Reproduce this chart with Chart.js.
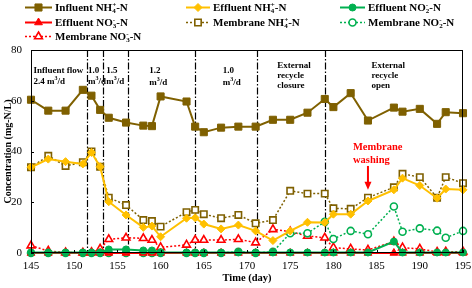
<!DOCTYPE html>
<html>
<head>
<meta charset="utf-8">
<script src="https://cdn.jsdelivr.net/npm/chart.js@4.4.0/dist/chart.umd.min.js"></script>
<style>
    html, body { margin: 0; padding: 0; background: #ffffff; }
</style>
</head>
<body>
<canvas id="nitrogenChart" width="472" height="288"></canvas>
<script>
// Nitrogen species over operation time

const days = [145, 147, 149, 151, 152, 153, 154, 156, 158, 159,
              160, 163, 164, 165, 167, 169, 171, 173, 175, 177,
              179, 180, 182, 184, 187, 188, 190, 192, 193, 195];

const influentNH4 = [60.4, 56.1, 56.1, 64.3, 62.0, 56.4, 53.3, 51.4, 50.2, 50.0,
                     61.7, 59.7, 49.8, 47.6, 49.4, 49.8, 49.8, 52.5, 52.5, 55.3,
                     60.7, 57.5, 63.0, 52.2, 57.3, 55.7, 56.8, 50.9, 55.5, 55.1];
const effluentNH4 = [33.8, 37.0, 36.0, 35.1, 39.6, 34.0, 20.2, 15.0, 10.1, 10.6,
                     6.4, 13.7, 13.9, 11.4, 9.5, 11.0, 8.7, 4.9, 8.7, 12.1,
                     12.0, 15.3, 15.3, 20.5, 24.9, 29.5, 26.6, 21.6, 25.2, 24.9];
const effluentNO2 = [0.2, 0.2, 0.2, 0.2, 0.2, 0.2, 1.4, 1.4, 1.0, 1.0,
                     0.3, 0.2, 0.2, 0.2, 0.2, 0.2, 0.2, 0.2, 0.2, 0.2,
                     0.2, 0.2, 0.2, 0.2, 4.5, 0.2, 0.2, 0.2, 0.2, 0.2];
const effluentNO3 = [0, 0, 0, 0, 0, 0, 0, 0, 0, 0,
                     0, 0, 0, 0, 0, 0, 0, 0, 0, 0,
                     0, 0, 0, 0, 0, 0, 0, 0, 0, 0];
const membraneNH4 = [33.8, 38.3, 34.3, 35.8, 40.0, 34.0, 21.8, 18.9, 13.0, 12.6,
                     10.4, 16.1, 17.0, 15.3, 13.7, 15.0, 11.7, 13.0, 24.5, 23.4,
                     23.4, 17.6, 17.4, 21.8, 25.9, 31.2, 29.9, 21.8, 29.9, 27.5];
const membraneNO2 = [0, 0, 0, 0, 0, 0, 0, 0, 0, 0,
                     0, 0, 0, 0, 0, 0.5, 0, 0.5, 7.8, 7.8,
                     12.3, 5.5, 8.7, 7.4, 18.3, 8.4, 9.7, 8.8, 6.0, 8.7];
const membraneNO3 = [2.9, 0.8, 0.2, 0.1, 0.3, 1.6, 5.4, 6.0, 5.8, 5.1,
                     2.2, 3.2, 5.1, 5.1, 5.1, 5.4, 4.1, 9.3, 8.4, 6.7,
                     6.0, 2.1, 1.6, 1.2, 4.5, 2.1, 1.6, 0.4, 0.5, 0.5];

const xTicks = [145, 150, 155, 160, 165, 170, 175, 180, 185, 190, 195];
const yTicks = [0, 20, 40, 60, 80];

// operating phase boundaries (day)
const phaseBoundaries = [151.5, 153.3, 156.2, 164, 171.2, 179];

// phase notes: [text, day, concentration]
const phaseNotes = [
    ['Influent flow', 145.3, 72.2], ['2.4 m³/d', 145.3, 67.9],
    ['1.0', 151.6, 72.2], ['m³/d', 151.6, 67.9],
    ['1.5', 153.7, 72.2], ['m³/d', 153.7, 67.9],
    ['1.2', 158.7, 72.0], ['m³/d', 158.7, 67.5],
    ['1.0', 167.2, 72.0], ['m³/d', 167.2, 67.5],
    ['External', 173.5, 74.2], ['recycle', 173.5, 70.2], ['closure', 173.5, 66.3],
    ['External', 184.4, 74.2], ['recycle', 184.4, 70.2], ['open', 184.4, 66.3]
];
const washingDay = 184;

const BROWN = '#7F6000';
const GOLD = '#FFC000';
const GREEN = '#00B050';
const RED = '#FF0000';
const SERIF = '"Liberation Serif", "Times New Roman", serif';

function toPoints(values) {
    return days.map((d, i) => ({ x: d, y: values[i] }));
}

const datasets = [
    { label: 'Influent NH₄⁺-N', data: toPoints(influentNH4), borderColor: BROWN, backgroundColor: BROWN,
      pointStyle: 'rect', pointRadius: 5, borderWidth: 2, pointBorderWidth: 1 },
    { label: 'Effluent NH₄⁺-N', data: toPoints(effluentNH4), borderColor: GOLD, backgroundColor: GOLD,
      pointStyle: 'rectRot', pointRadius: 4, borderWidth: 2, pointBorderWidth: 1 },
    { label: 'Effluent NO₂⁻-N', data: toPoints(effluentNO2), borderColor: GREEN, backgroundColor: GREEN,
      pointStyle: 'circle', pointRadius: 3.5, borderWidth: 2, pointBorderWidth: 1 },
    { label: 'Effluent NO₃⁻-N', data: toPoints(effluentNO3), borderColor: RED, backgroundColor: RED,
      pointStyle: 'triangle', pointRadius: 4.5, borderWidth: 2, pointBorderWidth: 1 },
    { label: 'Membrane NH₄⁺-N', data: toPoints(membraneNH4), borderColor: BROWN, backgroundColor: '#ffffff',
      pointStyle: 'rect', pointRadius: 4.5, borderWidth: 1.5, borderDash: [2, 2], pointBorderWidth: 1.6 },
    { label: 'Membrane NO₂⁻-N', data: toPoints(membraneNO2), borderColor: GREEN, backgroundColor: '#ffffff',
      pointStyle: 'circle', pointRadius: 3.5, borderWidth: 1.5, borderDash: [2, 2], pointBorderWidth: 1.6 },
    { label: 'Membrane NO₃⁻-N', data: toPoints(membraneNO3), borderColor: RED, backgroundColor: '#ffffff',
      pointStyle: 'triangle', pointRadius: 4.5, borderWidth: 1.5, borderDash: [2, 2], pointBorderWidth: 1.6 }
];
datasets.forEach(ds => { ds.clip = false; ds.tension = 0; ds.fill = false; });

// rich text: subscript / superscript characters drawn small
const SUB = { '₂': '2', '₃': '3', '₄': '4' };
const SUP = { '⁺': '+', '⁻': '-', '³': '3' };

function drawRich(ctx, str, x, y, size, weight) {
    let i = 0;
    ctx.textBaseline = 'alphabetic';
    ctx.textAlign = 'left';
    while (i < str.length) {
        if (SUB[str[i]] || SUP[str[i]]) {
            let sub = '', sup = '';
            while (i < str.length && (SUB[str[i]] || SUP[str[i]])) {
                if (SUB[str[i]]) sub += SUB[str[i]]; else sup += SUP[str[i]];
                i++;
            }
            ctx.font = `${weight} ${Math.round(size * 0.62)}px ${SERIF}`;
            const w = Math.max(ctx.measureText(sub).width, ctx.measureText(sup).width);
            if (sub) ctx.fillText(sub, x, y + size * 0.22);
            if (sup) ctx.fillText(sup, x, y - size * 0.38);
            x += w;
        } else {
            let run = '';
            while (i < str.length && !SUB[str[i]] && !SUP[str[i]]) { run += str[i]; i++; }
            ctx.font = `${weight} ${size}px ${SERIF}`;
            ctx.fillText(run, x, y);
            x += ctx.measureText(run).width;
        }
    }
}

const decorPlugin = {
    id: 'decor',
    beforeDatasetsDraw(chart) {
        const { ctx, chartArea: a, scales: { x, y } } = chart;
        ctx.save();
        // phase boundaries
        ctx.strokeStyle = '#000000';
        ctx.lineWidth = 1.2;
        ctx.setLineDash([7, 2, 1.5, 2]);
        phaseBoundaries.forEach(d => {
            const px = Math.round(x.getPixelForValue(d)) + 0.5;
            ctx.beginPath();
            ctx.moveTo(px, a.top);
            ctx.lineTo(px, a.bottom);
            ctx.stroke();
        });
        ctx.setLineDash([]);
        // phase notes
        ctx.fillStyle = '#000000';
        phaseNotes.forEach(([t, d, v]) => {
            drawRich(ctx, t, x.getPixelForValue(d), y.getPixelForValue(v) + 3, 9, 'bold');
        });
        ctx.restore();
    },
    afterDraw(chart) {
        const { ctx, chartArea: a, scales: { x, y } } = chart;
        ctx.save();
        // frame and inward ticks
        ctx.strokeStyle = '#000000';
        ctx.lineWidth = 1;
        ctx.strokeRect(a.left + 0.5, a.top + 0.5, a.right - a.left - 1, a.bottom - a.top - 1);
        ctx.beginPath();
        yTicks.forEach(v => {
            const py = Math.round(y.getPixelForValue(v)) + 0.5;
            ctx.moveTo(a.left, py); ctx.lineTo(a.left + 3, py);
        });
        xTicks.forEach(v => {
            const px = Math.round(x.getPixelForValue(v)) + 0.5;
            ctx.moveTo(px, a.bottom); ctx.lineTo(px, a.bottom - 3);
        });
        ctx.stroke();

        // membrane washing note and arrow
        const wx = x.getPixelForValue(washingDay);
        ctx.fillStyle = RED;
        drawRich(ctx, 'Membrane', wx - 15, y.getPixelForValue(42.2) + 4, 10.5, 'bold');
        drawRich(ctx, 'washing', wx - 15, y.getPixelForValue(37.1) + 4, 10.5, 'bold');
        ctx.strokeStyle = RED;
        ctx.lineWidth = 2;
        const y0 = y.getPixelForValue(34.3), y1 = y.getPixelForValue(24.9);
        ctx.beginPath();
        ctx.moveTo(wx, y0); ctx.lineTo(wx, y1 - 6);
        ctx.stroke();
        ctx.beginPath();
        ctx.moveTo(wx - 3.5, y1 - 8); ctx.lineTo(wx + 3.5, y1 - 8); ctx.lineTo(wx, y1);
        ctx.closePath();
        ctx.fill();

        // legend in three columns
        const cols = [[25, 55], [186, 213], [340, 368]];
        const rows = [7, 22, 36];
        chart.data.datasets.forEach((ds, i) => {
            const [lx, tx] = cols[i % 3];
            const ry = rows[Math.floor(i / 3)];
            ctx.strokeStyle = ds.borderColor;
            ctx.lineWidth = ds.borderWidth;
            ctx.setLineDash(ds.borderDash || []);
            ctx.beginPath();
            ctx.moveTo(lx, ry + 0.5); ctx.lineTo(tx - 3, ry + 0.5);
            ctx.stroke();
            ctx.setLineDash([]);
            ctx.fillStyle = ds.backgroundColor;
            ctx.lineWidth = ds.pointBorderWidth;
            Chart.helpers.drawPoint(ctx, {
                pointStyle: ds.pointStyle, radius: ds.pointRadius, rotation: 0,
                borderWidth: ds.pointBorderWidth
            }, (lx + tx - 3) / 2, ry + 0.5);
            ctx.fillStyle = '#000000';
            drawRich(ctx, ds.label, tx, ry + 4, 11, 'bold');
        });
        ctx.restore();
    }
};

new Chart(document.getElementById('nitrogenChart'), {
    type: 'line',
    data: { datasets: datasets },
    options: {
        responsive: false,
        animation: false,
        layout: { padding: { top: 50, right: 9, left: 0, bottom: 0 } },
        plugins: {
            legend: { display: false },
            tooltip: { enabled: false }
        },
        scales: {
            x: {
                type: 'linear',
                min: 145,
                max: 195,
                afterFit: scale => {
                    scale.height = 35;
                    scale.paddingLeft = 0;
                    scale.paddingRight = 0;
                },
                afterBuildTicks: scale => { scale.ticks = xTicks.map(v => ({ value: v })); },
                grid: { display: false, drawTicks: false },
                border: { display: false },
                ticks: { padding: 7, color: '#000000', font: { family: SERIF, size: 11 } },
                title: {
                    display: true,
                    text: 'Time (day)',
                    color: '#000000',
                    padding: { top: 0, bottom: 3 },
                    font: { family: SERIF, size: 10.5, weight: 'bold' }
                }
            },
            y: {
                min: 0,
                max: 80,
                afterFit: scale => {
                    scale.width = 31;
                    scale.paddingTop = 0;
                    scale.paddingBottom = 0;
                },
                afterBuildTicks: scale => { scale.ticks = yTicks.map(v => ({ value: v })); },
                grid: { display: false, drawTicks: false },
                border: { display: false },
                ticks: { padding: 9, color: '#000000', font: { family: SERIF, size: 11 } },
                title: {
                    display: true,
                    text: 'Concentration (mg-N/L)',
                    color: '#000000',
                    padding: { top: 2, bottom: 0 },
                    font: { family: SERIF, size: 10, weight: 'bold' }
                }
            }
        }
    },
    plugins: [decorPlugin]
});
</script>
</body>
</html>
